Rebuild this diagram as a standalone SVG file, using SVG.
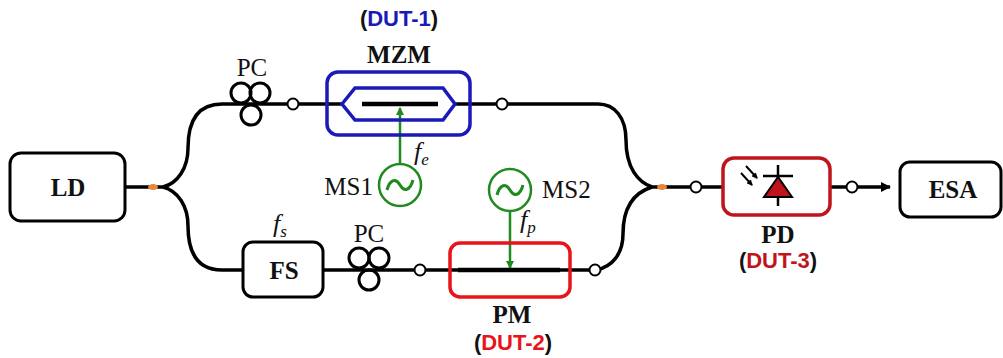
<svg xmlns="http://www.w3.org/2000/svg" width="1003" height="358" viewBox="0 0 1003 358">
<style>
.fib{fill:none;stroke:#000;stroke-width:3.5}
.box{fill:#fff;stroke:#000;stroke-width:3}
.lbl{font-family:"Liberation Serif",serif;font-weight:bold;font-size:25px;text-anchor:middle;fill:#111}
.reg{font-family:"Liberation Serif",serif;font-size:25px;fill:#111}
.it{font-family:"Liberation Serif",serif;font-style:italic;font-size:26px;fill:#111}
.dut{font-family:"Liberation Sans",sans-serif;font-weight:bold;font-size:22px;text-anchor:middle;fill:#111}
.node{fill:#fff;stroke:#000;stroke-width:2}
.grn{fill:none;stroke:#1f8a1f;stroke-width:2.5}
.tl{fill:none;stroke:#1f8a1f;stroke-width:3}
</style>
<defs>
<marker id="ga" markerWidth="8" markerHeight="8" refX="7" refY="4" orient="auto" markerUnits="userSpaceOnUse"><path d="M0,0 L8,4 L0,8 Z" fill="#1f8a1f"/></marker>
<marker id="ka" markerWidth="10" markerHeight="10" refX="9" refY="5" orient="auto" markerUnits="userSpaceOnUse"><path d="M0,0 L10,5 L0,10 Z" fill="#000"/></marker>
<marker id="sa" markerWidth="6" markerHeight="6" refX="5" refY="3" orient="auto" markerUnits="userSpaceOnUse"><path d="M0,0 L6,3 L0,6 Z" fill="#000"/></marker>
</defs>
<g id="connectors">
<path class="fib" d="M125,187 L163,187"/>
<path class="fib" d="M163,187 C178,183 188,168 188,148 C188,120 198,104 222,104 L342,104"/>
<path class="fib" d="M163,187 C178,191 188,206 188,226 C188,254 198,270 222,270 L243,270"/>
<path class="fib" d="M323,270 L600,270"/>
<path class="fib" d="M455,104 L598,104 C615,104 626,118 626,140 C626,168 638,182 652,187"/>
<path class="fib" d="M596,270 C612,267 623,254 623,234 C623,205 636,192 652,187"/>
<path class="fib" d="M652,187 L723,187"/>
<path class="fib" d="M830,187 L890,187" marker-end="url(#ka)"/>
<ellipse cx="153" cy="187" rx="5" ry="3" fill="#e8873a"/>
<ellipse cx="662" cy="187" rx="5" ry="3" fill="#e8873a"/>
<circle class="node" cx="293" cy="104" r="5.5"/>
<circle class="node" cx="502" cy="104" r="5.5"/>
<circle class="node" cx="420" cy="270" r="5.5"/>
<circle class="node" cx="595" cy="270" r="5.5"/>
<circle class="node" cx="696" cy="187" r="5.5"/>
<circle class="node" cx="852" cy="187" r="5.5"/>
<line class="grn" x1="400" y1="164" x2="400" y2="108" marker-end="url(#ga)"/>
<line class="grn" x1="510" y1="212" x2="510" y2="268" marker-end="url(#ga)"/>
</g>
<g id="LD">
<rect class="box" x="10" y="153" width="115" height="68" rx="11"/>
<text class="lbl" x="68" y="196">LD</text>
</g>
<g id="PC1">
<circle cx="241" cy="93" r="10" fill="none" stroke="#000" stroke-width="3"/>
<circle cx="260" cy="93" r="10" fill="none" stroke="#000" stroke-width="3"/>
<circle cx="251" cy="115" r="10" fill="none" stroke="#000" stroke-width="3"/>
<text class="reg" x="252" y="76" text-anchor="middle">PC</text>
</g>
<g id="MZM">
<rect x="327" y="72" width="143" height="63" rx="11" fill="none" stroke="#1a1ab8" stroke-width="3.5"/>
<polygon points="342,104 355,88 443,88 455,104 443,120 355,120" fill="none" stroke="#1a1ab8" stroke-width="3.5"/>
<line x1="362" y1="104" x2="438" y2="104" stroke="#000" stroke-width="4.5"/>
<text class="lbl" x="399" y="63">MZM</text>
<text class="dut" x="399" y="26">(<tspan fill="#1a1ab8">DUT-1</tspan>)</text>
</g>
<g id="MS1">
<circle cx="400" cy="185" r="21" fill="#fff" stroke="#1f8a1f" stroke-width="2.5"/>
<path class="tl" d="M387,190 C390,179 396,178 400,185 C404,192 410,191 413,180"/>
<text class="reg" x="373" y="195" text-anchor="end">MS1</text>
<text class="it" x="414" y="160">f<tspan font-size="17" dy="5">e</tspan></text>
</g>
<g id="FS">
<rect class="box" x="243" y="242" width="80" height="55" rx="10"/>
<text class="lbl" x="284" y="279">FS</text>
<text class="it" x="273" y="232">f<tspan font-size="17" dy="5">s</tspan></text>
</g>
<g id="PC2">
<circle cx="359" cy="258" r="10" fill="none" stroke="#000" stroke-width="3"/>
<circle cx="379" cy="258" r="10" fill="none" stroke="#000" stroke-width="3"/>
<circle cx="369" cy="280" r="10" fill="none" stroke="#000" stroke-width="3"/>
<text class="reg" x="369" y="242" text-anchor="middle">PC</text>
</g>
<g id="MS2">
<circle cx="510" cy="190" r="21" fill="#fff" stroke="#1f8a1f" stroke-width="2.5"/>
<path class="tl" d="M497,195 C500,184 506,183 510,190 C514,197 520,196 523,185"/>
<text class="reg" x="542" y="198">MS2</text>
<text class="it" x="520" y="228">f<tspan font-size="17" dy="5">p</tspan></text>
</g>
<g id="PM">
<rect x="450" y="243" width="120" height="54" rx="10" fill="none" stroke="#e8141a" stroke-width="3.5"/>
<line x1="458" y1="270" x2="560" y2="270" stroke="#000" stroke-width="4.5"/>
<text class="lbl" x="512" y="323">PM</text>
<text class="dut" x="513" y="350">(<tspan fill="#e8141a">DUT-2</tspan>)</text>
</g>
<g id="PD">
<rect x="723" y="158" width="107" height="57" rx="11" fill="#fff" stroke="#c0141c" stroke-width="3.5"/>
<line x1="778" y1="165" x2="778" y2="206" stroke="#000" stroke-width="2.5"/>
<line x1="763" y1="176" x2="793" y2="176" stroke="#000" stroke-width="2.5"/>
<polygon points="778,177 764,197 792,197" fill="#c0141c" stroke="#000" stroke-width="2"/>
<line x1="746" y1="166" x2="757" y2="178" stroke="#000" stroke-width="2" marker-end="url(#sa)"/>
<line x1="741" y1="173" x2="752" y2="185" stroke="#000" stroke-width="2" marker-end="url(#sa)"/>
<text class="lbl" x="778" y="243">PD</text>
<text class="dut" x="778" y="268">(<tspan fill="#c0141c">DUT-3</tspan>)</text>
</g>
<g id="ESA">
<rect class="box" x="900" y="162" width="101" height="55" rx="10"/>
<text class="lbl" x="953" y="198">ESA</text>
</g>
</svg>
